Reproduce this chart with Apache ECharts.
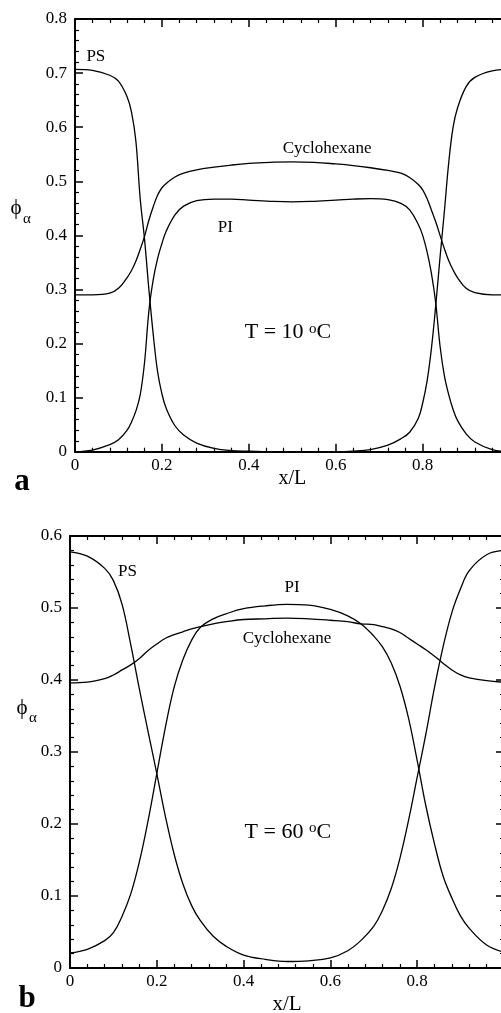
<!DOCTYPE html>
<html>
<head>
<meta charset="utf-8">
<script src="https://cdn.jsdelivr.net/npm/echarts@6/dist/echarts.min.js"></script>
<style>
  html, body { margin: 0; padding: 0; background: #fff; }
  #chart { width: 501px; height: 1013px; }
</style>
</head>
<body>
<div id="chart"></div>
<script>
// Volume-fraction profiles across the cell, panel a: T = 10 °C
const topX  = [0, 0.04, 0.08, 0.10, 0.12, 0.13, 0.14, 0.15, 0.16, 0.17, 0.18, 0.19, 0.20, 0.21, 0.23, 0.25, 0.28, 0.32, 0.36, 0.40, 0.45, 0.50, 0.55, 0.60, 0.64, 0.68, 0.72, 0.75, 0.77, 0.79, 0.80, 0.81, 0.82, 0.83, 0.84, 0.85, 0.86, 0.87, 0.88, 0.90, 0.92, 0.96, 1.00];
const topPS = [0.707, 0.705, 0.696, 0.685, 0.656, 0.628, 0.575, 0.468, 0.393, 0.300, 0.217, 0.148, 0.107, 0.080, 0.048, 0.031, 0.016, 0.006, 0.002, 0.001, 0, 0, 0, 0, 0.001, 0.004, 0.012, 0.024, 0.036, 0.062, 0.090, 0.130, 0.190, 0.270, 0.360, 0.445, 0.535, 0.600, 0.635, 0.675, 0.692, 0.704, 0.707];
const topPI = [0, 0.003, 0.013, 0.022, 0.040, 0.055, 0.075, 0.105, 0.165, 0.260, 0.318, 0.357, 0.385, 0.408, 0.438, 0.454, 0.464, 0.467, 0.467, 0.465, 0.463, 0.462, 0.463, 0.465, 0.467, 0.468, 0.466, 0.459, 0.447, 0.420, 0.400, 0.370, 0.330, 0.275, 0.195, 0.140, 0.105, 0.078, 0.058, 0.033, 0.018, 0.004, 0];
const topCy = [0.290, 0.290, 0.293, 0.302, 0.322, 0.335, 0.352, 0.374, 0.398, 0.428, 0.453, 0.474, 0.488, 0.496, 0.508, 0.515, 0.521, 0.526, 0.530, 0.533, 0.535, 0.536, 0.535, 0.532, 0.529, 0.525, 0.520, 0.515, 0.507, 0.494, 0.484, 0.468, 0.447, 0.425, 0.400, 0.375, 0.353, 0.336, 0.322, 0.302, 0.294, 0.290, 0.290];

// Panel b: T = 60 °C
const botX  = [0, 0.04, 0.08, 0.10, 0.12, 0.14, 0.16, 0.18, 0.20, 0.22, 0.24, 0.26, 0.28, 0.30, 0.33, 0.36, 0.40, 0.45, 0.50, 0.55, 0.60, 0.64, 0.67, 0.70, 0.72, 0.74, 0.76, 0.78, 0.80, 0.82, 0.84, 0.86, 0.88, 0.90, 0.92, 0.96, 1.00];
const botPS = [0.578, 0.572, 0.555, 0.538, 0.505, 0.449, 0.387, 0.328, 0.270, 0.210, 0.158, 0.117, 0.087, 0.066, 0.044, 0.030, 0.018, 0.012, 0.009, 0.010, 0.014, 0.024, 0.038, 0.058, 0.080, 0.110, 0.152, 0.205, 0.265, 0.325, 0.390, 0.447, 0.494, 0.527, 0.552, 0.574, 0.580];
const botPI = [0.021, 0.026, 0.038, 0.049, 0.072, 0.103, 0.148, 0.205, 0.270, 0.335, 0.390, 0.428, 0.455, 0.473, 0.485, 0.492, 0.499, 0.503, 0.505, 0.504, 0.498, 0.489, 0.478, 0.461, 0.446, 0.424, 0.392, 0.347, 0.288, 0.225, 0.172, 0.127, 0.097, 0.072, 0.055, 0.032, 0.022];
const botCy = [0.396, 0.397, 0.402, 0.407, 0.414, 0.421, 0.430, 0.441, 0.450, 0.458, 0.463, 0.467, 0.471, 0.474, 0.478, 0.481, 0.484, 0.485, 0.486, 0.485, 0.483, 0.481, 0.478, 0.477, 0.474, 0.471, 0.466, 0.458, 0.450, 0.442, 0.433, 0.423, 0.414, 0.407, 0.403, 0.399, 0.397];

// Curve annotations, placed in data coordinates of each panel
const topNotes = [
  { text: 'PS', x: 0.048, y: 0.730, size: 17 },
  { text: 'Cyclohexane', x: 0.580, y: 0.561, size: 17 },
  { text: 'PI', x: 0.346, y: 0.414, size: 17 },
  { text: '{n|T = 10 }{s|o}{n|C}', x: 0.49, y: 0.221, size: 22 }
];
const botNotes = [
  { text: 'PS', x: 0.1325, y: 0.550, size: 17 },
  { text: 'PI', x: 0.5115, y: 0.529, size: 17 },
  { text: 'Cyclohexane', x: 0.500, y: 0.458, size: 17 },
  { text: '{n|T = 60 }{s|o}{n|C}', x: 0.502, y: 0.189, size: 22 }
];

const SERIF = "'Liberation Serif', 'Times New Roman', serif";
const INK = '#000';

function tickLabel(v) {
  return v === 0 ? '0' : v.toFixed(1);
}

function xAxisPair(gridIndex, nameGap, nameSize) {
  const base = {
    type: 'value', gridIndex: gridIndex, min: 0, max: 1, interval: 0.2,
    axisLine: { show: true, onZero: false, lineStyle: { color: INK, width: 2 } },
    axisTick: { show: true, inside: true, length: 8, lineStyle: { color: INK, width: 1.5 } },
    minorTick: { show: true, splitNumber: 5, length: 4, lineStyle: { color: INK, width: 1.2 } },
    splitLine: { show: false }
  };
  return [
    Object.assign({}, base, {
      position: 'bottom',
      axisLabel: { show: true, margin: 5, color: INK, fontFamily: SERIF, fontSize: 17,
                   formatter: tickLabel, showMaxLabel: false },
      name: 'x/L', nameLocation: 'middle', nameGap: nameGap, nameMoveOverlap: false,
      nameTextStyle: { color: INK, fontFamily: SERIF, fontSize: nameSize }
    }),
    Object.assign({}, base, { position: 'top', axisLabel: { show: false } })
  ];
}

function yAxisPair(gridIndex, max) {
  const base = {
    type: 'value', gridIndex: gridIndex, min: 0, max: max, interval: 0.1,
    axisLine: { show: true, onZero: false, lineStyle: { color: INK, width: 2 } },
    axisTick: { show: true, inside: true, length: 8, lineStyle: { color: INK, width: 1.5 } },
    minorTick: { show: true, splitNumber: 5, length: 4, lineStyle: { color: INK, width: 1.2 } },
    splitLine: { show: false }
  };
  return [
    Object.assign({}, base, {
      position: 'left',
      axisLabel: { show: true, margin: 8, color: INK, fontFamily: SERIF, fontSize: 17, formatter: tickLabel }
    }),
    Object.assign({}, base, { position: 'right', axisLabel: { show: false } })
  ];
}

function profile(name, xs, ys, axisIndex) {
  return {
    name: name, type: 'line',
    xAxisIndex: axisIndex, yAxisIndex: axisIndex,
    data: xs.map((x, i) => [x, ys[i]]),
    showSymbol: false, symbol: 'none',
    smooth: 0.4,
    lineStyle: { color: INK, width: 1.3 },
    silent: true, animation: false
  };
}

const chart = echarts.init(document.getElementById('chart'), null, { renderer: 'canvas' });

chart.setOption({
  backgroundColor: '#fff',
  animation: false,
  grid: [
    { left: 75, top: 19, width: 434.6, height: 432.7, outerBoundsMode: 'none', containLabel: false },
    { left: 70, top: 536, width: 434, height: 432, outerBoundsMode: 'none', containLabel: false }
  ],
  xAxis: xAxisPair(0, 17, 20).concat(xAxisPair(1, 26, 21)),
  yAxis: yAxisPair(0, 0.8).concat(yAxisPair(1, 0.6)),
  series: [
    profile('PS', topX, topPS, 0),
    profile('PI', topX, topPI, 0),
    profile('Cyclohexane', topX, topCy, 0),
    profile('PS', botX, botPS, 2),
    profile('PI', botX, botPI, 2),
    profile('Cyclohexane', botX, botCy, 2)
  ]
});

function noteText(note, axisIndex) {
  const p = chart.convertToPixel({ xAxisIndex: axisIndex, yAxisIndex: axisIndex }, [note.x, note.y]);
  return {
    type: 'text', x: p[0], y: p[1], silent: true,
    style: {
      text: note.text, fill: INK, fontFamily: SERIF, fontSize: note.size,
      align: 'center', verticalAlign: 'middle',
      rich: {
        n: { fontFamily: SERIF, fontSize: note.size, fill: INK },
        s: { fontFamily: SERIF, fontSize: 15, fill: INK, verticalAlign: 'top' }
      }
    }
  };
}

function plainText(text, x, y, size, weight) {
  return {
    type: 'text', x: x, y: y, silent: true,
    style: { text: text, fill: INK, fontFamily: SERIF, fontSize: size, fontWeight: weight || 'normal',
             align: 'center', verticalAlign: 'middle' }
  };
}

const graphics = []
  .concat(topNotes.map(n => noteText(n, 0)))
  .concat(botNotes.map(n => noteText(n, 2)))
  .concat([
    plainText('ϕ', 16, 208, 21),
    plainText('α', 27, 219, 15),
    plainText('ϕ', 22, 708, 21),
    plainText('α', 33, 718, 15),
    plainText('a', 22, 482, 31, 'bold'),
    plainText('b', 27, 999, 31, 'bold')
  ]);

chart.setOption({ graphic: graphics });
</script>
</body>
</html>
